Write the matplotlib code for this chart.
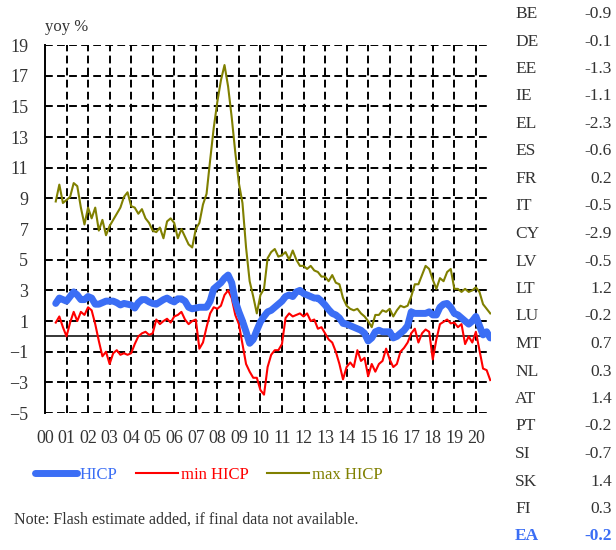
import matplotlib
matplotlib.use("Agg")
import matplotlib.pyplot as plt
import numpy as np
import pandas as pd

# bi-monthly readings, Jul 2000 .. Sep 2020
start = "2000-07"

hicp = [2.15, 2.5, 2.4,
        2.3, 2.6, 2.9, 2.7, 2.4, 2.4,
        2.6, 2.5, 2.1, 2.1, 2.2, 2.3,
        2.3, 2.3, 2.2, 2.05, 2.15, 2.1,
        2.05, 1.85, 2.2, 2.4, 2.4, 2.25,
        2.15, 2.1, 2.25, 2.4, 2.5, 2.35,
        2.25, 2.45, 2.45, 2.3, 1.9, 1.8,
        1.85, 1.9, 1.9, 1.9, 2.3, 3.1,
        3.3, 3.5, 3.8, 4.0, 3.5, 2.3,
        1.6, 1.0, 0.3, -0.45, -0.2, 0.4,
        0.95, 1.3, 1.6, 1.7, 1.9, 2.1,
        2.3, 2.6, 2.7, 2.6, 2.9, 3.0,
        2.8, 2.7, 2.6, 2.5, 2.5, 2.3,
        2.05, 1.75, 1.5, 1.4, 1.2, 0.85,
        0.8, 0.7, 0.6, 0.5, 0.4, 0.2,
        -0.3, -0.1, 0.3, 0.4, 0.3, 0.3,
        0.3, -0.1, 0.0, 0.2, 0.4, 0.7,
        1.6, 1.5, 1.5, 1.5, 1.5, 1.6,
        1.4, 1.4, 1.9, 2.1, 2.15, 1.9,
        1.5, 1.4, 1.2, 1.0, 0.8, 1.0,
        1.3, 0.7, 0.1, 0.3, -0.1]

hicp_min = [0.9, 1.3, 0.6,
            0.0, 0.9, 1.6, 1.0, 1.6, 1.4,
            1.9, 1.7, 0.8, -0.3, -1.3, -1.0,
            -1.8, -1.1, -0.9, -1.2, -1.1, -1.2,
            -1.1, -0.5, 0.0, 0.2, 0.3, 0.1,
            0.2, 1.1, 0.8, 1.0, 1.15, 0.9,
            1.3, 1.4, 1.6, 1.1, 0.8, 1.0,
            1.1, -0.8, -0.4, 0.6, 1.5, 1.9,
            1.8, 2.0, 2.7, 3.0, 2.5, 1.4,
            0.8, -0.5, -1.8, -2.3, -2.7, -2.7,
            -3.5, -3.8, -2.0, -1.2, -0.9, -0.9,
            -0.5, 1.2, 1.5, 1.3, 1.4, 1.5,
            1.3, 1.5, 1.0, 1.1, 0.5, 0.6,
            0.2, -0.2, -0.4, -1.0, -1.8, -2.8,
            -2.0, -1.7, -2.0, -0.9, -1.6, -1.4,
            -2.6, -1.8, -2.3, -1.8, -1.6, -0.8,
            -1.5, -2.0, -1.8, -1.0, -0.75, -0.4,
            0.2, 0.5, -0.4, 0.2, 0.45, 0.3,
            -1.5, -0.2, 0.8, 0.95, 1.1, 0.85,
            0.9, 0.6, 0.8, -0.5, 0.0, -0.4,
            0.3, -0.9, -2.1, -2.2, -2.85]

hicp_max = [8.8, 9.9, 8.7,
            8.9, 9.1, 10.0, 9.8, 8.4, 7.3,
            8.4, 7.7, 8.4, 6.9, 7.6, 6.6,
            7.2, 7.6, 8.0, 8.4, 9.1, 9.4,
            8.5, 8.4, 8.0, 8.3, 7.7, 7.4,
            6.9, 6.8, 7.1, 6.4, 7.5, 7.7,
            7.4, 6.4, 7.0, 6.5, 6.0, 5.8,
            7.0, 7.4, 8.6, 9.3, 11.5, 13.6,
            15.3, 16.7, 17.7, 16.3, 14.3, 12.0,
            10.0, 8.7, 5.8, 3.6, 2.6, 1.5,
            2.7, 3.1, 5.1, 5.5, 5.7, 5.2,
            5.3, 5.5, 5.0, 5.6, 5.0, 4.6,
            4.6, 4.4, 4.6, 4.3, 4.2, 3.9,
            3.9, 3.6, 4.0, 3.5, 3.4, 2.5,
            2.0, 1.8, 1.7, 1.8, 1.5, 1.3,
            1.0, 0.6, 1.4, 1.4, 1.7, 1.6,
            1.8, 1.3, 1.7, 2.0, 1.9, 2.0,
            2.6, 3.4, 3.4, 4.0, 4.6, 4.4,
            3.7, 3.1, 3.8, 3.6, 4.2, 4.4,
            3.1, 3.1, 2.9, 3.1, 2.9, 3.0,
            3.2, 2.9, 2.1, 1.8, 1.5]

countries = ["BE", "DE", "EE", "IE", "EL", "ES", "FR", "IT", "CY", "LV",
             "LT", "LU", "MT", "NL", "AT", "PT", "SI", "SK", "FI", "EA"]
latest = [-0.9, -0.1, -1.3, -1.1, -2.3, -0.6, 0.2, -0.5, -2.9, -0.5,
          1.2, -0.2, 0.7, 0.3, 1.4, -0.2, -0.7, 1.4, 0.3, -0.2]

year_labels = ["%02d" % y for y in range(0, 21)]

BLUE = "#3b6ef5"
RED = "#ff0000"
OLIVE = "#808000"
TXT = "#333333"

plt.rcParams["font.family"] = ["Liberation Serif", "DejaVu Serif"]

dates = pd.date_range(start, periods=len(hicp), freq="2MS")
t = dates.year + (dates.month - 1) / 12.0

fig = plt.figure(figsize=(6.16, 5.5), dpi=100)
ax = fig.add_axes([0.073, 0.249, 0.724, 0.669])

dash = (0, (4, 2.2))
for y in range(-5, 20, 2):
    ax.axhline(y, color="black", lw=1.4, ls=dash, zorder=1)
for yr in range(2001, 2021):
    ax.axvline(yr, color="black", lw=1.4, ls=dash, zorder=1)
ax.axhline(0, color="black", lw=1.1, zorder=2)

ax.plot(t, hicp_max, color=OLIVE, lw=1.5, zorder=3, label="max HICP")
ax.plot(t, hicp_min, color=RED, lw=1.5, zorder=3, label="min HICP")
ax.plot(t, hicp, color=BLUE, lw=5, zorder=4, label="HICP", solid_capstyle="round")

ax.set_xlim(2000, 2020.7)
ax.set_ylim(-5, 19)
ax.set_yticks(range(-5, 20, 2))
ax.set_xticks(range(2000, 2021))
ax.set_xticklabels(year_labels)
ax.tick_params(length=0, labelsize=13, colors=TXT, pad=12)
ax.tick_params(axis="y", pad=12)
for s in ["top", "right", "bottom"]:
    ax.spines[s].set_visible(False)
ax.spines["left"].set_linewidth(1.4)

fig.text(45 / 616, 1 - 27 / 550, "yoy %", fontsize=12, color=TXT, va="center")

# legend
hs, ls = ax.get_legend_handles_labels()
order = [2, 1, 0]
leg = fig.legend([hs[i] for i in order], [ls[i] for i in order],
                 loc="center left", bbox_to_anchor=(35 / 616, 1 - 475 / 550),
                 borderpad=0, borderaxespad=0,
                 ncol=3, frameon=False, fontsize=12, handlelength=2.5,
                 handletextpad=0.2, columnspacing=1.1,
                 labelcolor=[BLUE, RED, OLIVE])

fig.text(14 / 616, 1 - 520 / 550,
         "Note: Flash estimate added, if final data not available.",
         fontsize=11.5, color=TXT, va="center")

# side table with latest readings
for i, (c, v) in enumerate(zip(countries, latest)):
    y = 1 - (14 + i * 27.5) / 550
    col = BLUE if c == "EA" else TXT
    w = "bold" if c == "EA" else "normal"
    fig.text(515 / 616, y, c, fontsize=12.5, color=col, weight=w, va="center")
    fig.text(612 / 616, y, "%.1f" % v, fontsize=12.5, color=col, weight=w,
             va="center", ha="right")

fig.savefig("out.png", dpi=100)
